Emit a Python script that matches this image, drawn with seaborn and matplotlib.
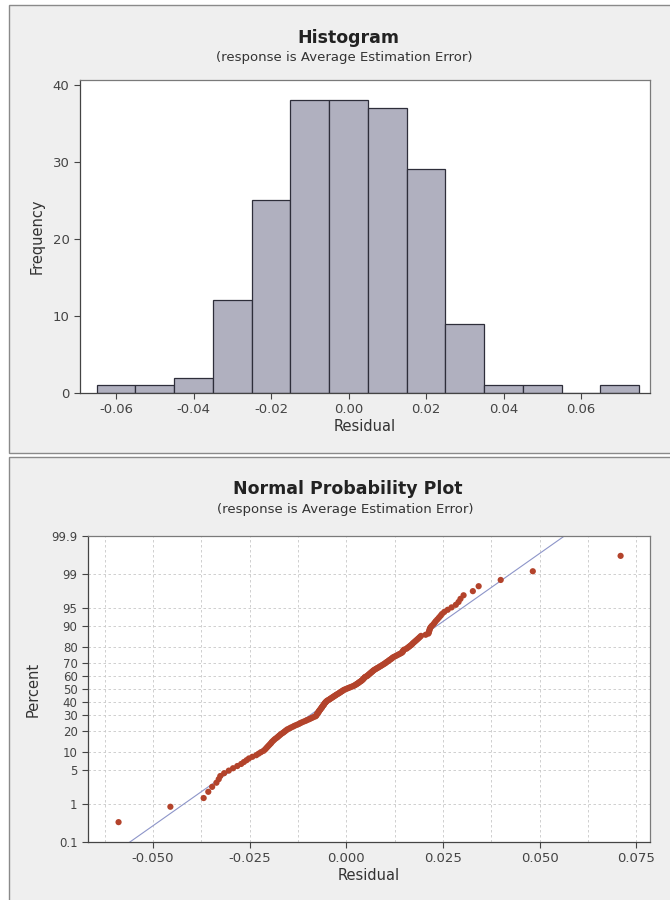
from statistics import NormalDist
import numpy as np
import seaborn as sns
from matplotlib import pyplot as plt
from matplotlib.patches import Rectangle
from matplotlib.ticker import MultipleLocator, FixedLocator

# residuals (sorted), 195 obs
residuals = [
    -0.0589, -0.0455, -0.0369, -0.0357,
    # -0.035 .. -0.025
    -0.0347, -0.0336, -0.0330, -0.0326, -0.0316, -0.0304, -0.0293, -0.0282,
    -0.0272, -0.0265, -0.0258, -0.0252,
    # -0.025 .. -0.015
    -0.0243, -0.0233, -0.0227, -0.0221, -0.0214, -0.0210, -0.0207, -0.0204,
    -0.0201, -0.0198, -0.0195, -0.0193, -0.0190, -0.0187, -0.0184, -0.0180,
    -0.0177, -0.0174, -0.0171, -0.0168, -0.0164, -0.0161, -0.0158, -0.0155,
    -0.0152,
    # -0.015 .. -0.005
    -0.0147, -0.0143, -0.0138, -0.0134, -0.0129, -0.0124, -0.0120, -0.0116,
    -0.0111, -0.0106, -0.0102, -0.0097, -0.0093, -0.0089, -0.0085, -0.0080,
    -0.0078, -0.0077, -0.0076, -0.0075, -0.0073, -0.0072, -0.0071, -0.0070,
    -0.0068, -0.0067, -0.0066, -0.0064, -0.0063, -0.0062, -0.0061, -0.0059,
    -0.0058, -0.0057, -0.0056, -0.0054, -0.0053, -0.0051,
    # -0.005 .. 0.005
    -0.0049, -0.0046, -0.0043, -0.0041, -0.0038, -0.0036, -0.0033, -0.0031,
    -0.0028, -0.0026, -0.0023, -0.0020, -0.0018, -0.0015, -0.0013, -0.0010,
    -0.0008, -0.0005, -0.0001, 0.0003, 0.0007, 0.0011, 0.0015, 0.0019,
    0.0022, 0.0025, 0.0027, 0.0030, 0.0032, 0.0034, 0.0037, 0.0039,
    0.0041, 0.0043, 0.0044, 0.0046, 0.0047, 0.0049,
    # 0.005 .. 0.015
    0.0053, 0.0055, 0.0057, 0.0059, 0.0061, 0.0063, 0.0065, 0.0067,
    0.0069, 0.0071, 0.0074, 0.0077, 0.0080, 0.0083, 0.0086, 0.0089,
    0.0092, 0.0095, 0.0098, 0.0101, 0.0103, 0.0106, 0.0109, 0.0111,
    0.0114, 0.0117, 0.0119, 0.0122, 0.0126, 0.0130, 0.0134, 0.0138,
    0.0142, 0.0145, 0.0146, 0.0147, 0.0149,
    # 0.015 .. 0.025
    0.0155, 0.0158, 0.0161, 0.0164, 0.0167, 0.0170, 0.0172, 0.0175,
    0.0178, 0.0181, 0.0184, 0.0187, 0.0190, 0.0193, 0.0205, 0.0212,
    0.0213, 0.0214, 0.0215, 0.0216, 0.0218, 0.0221, 0.0225, 0.0228,
    0.0231, 0.0235, 0.0239, 0.0243, 0.0247,
    # 0.025 .. 0.035 and the tail
    0.0253, 0.0262, 0.0272, 0.0283, 0.0290, 0.0295, 0.0303, 0.0327, 0.0342,
    0.0399, 0.0482, 0.0709,
]

bin_edges = [-0.065, -0.055, -0.045, -0.035, -0.025, -0.015, -0.005, 0.005,
             0.015, 0.025, 0.035, 0.045, 0.055, 0.065, 0.075]
hist_xticks = [-0.06, -0.04, -0.02, 0.00, 0.02, 0.04, 0.06]
hist_yticks = [0, 10, 20, 30, 40]
prob_xticks = [-0.050, -0.025, 0.000, 0.025, 0.050, 0.075]
pct_ticks = [0.1, 1, 5, 10, 20, 30, 40, 50, 60, 70, 80, 90, 95, 99, 99.9]
pct_labels = ['0.1', '1', '5', '10', '20', '30', '40', '50', '60', '70',
              '80', '90', '95', '99', '99.9']

sns.set_style('white')
plt.rcParams['font.family'] = ['DejaVu Sans']

TXT = '#333333'
fig = plt.figure(figsize=(6.7, 9), dpi=100)
fig.patch.set_facecolor('white')

# panel backgrounds (figure px -> fraction)
W, H = 670, 900
for (x0, y0, x1, y1) in [(9, 5, 680, 453), (9, 457, 680, 910)]:
    fig.patches.append(Rectangle((x0 / W, 1 - y1 / H), (x1 - x0) / W, (y1 - y0) / H,
                                 transform=fig.transFigure, facecolor='#efefef',
                                 edgecolor='#8a8a8a', lw=1.0, zorder=-10))

# ---- histogram
ax1 = fig.add_axes([80 / W, 1 - 393 / H, 570 / W, 313 / H])
sns.histplot(x=residuals, bins=bin_edges, ax=ax1, color='#b0b0bf', alpha=1,
             edgecolor='#2e2e3a', linewidth=0.9)
ax1.set_xlim(-0.0693, 0.0778)
ax1.set_ylim(0, 40.6)
ax1.set_xticks(hist_xticks)
ax1.set_xticklabels([f'{v:.2f}' for v in hist_xticks])
ax1.set_yticks(hist_yticks)
ax1.set_xlabel('Residual', fontsize=10.5, color=TXT, labelpad=2)
ax1.set_ylabel('Frequency', fontsize=10.5, color=TXT, labelpad=6)
fig.text(348 / W, 1 - 38 / H, 'Histogram', ha='center', va='center',
         fontsize=12.5, fontweight='bold', color='#222222')
fig.text(344 / W, 1 - 58 / H, '(response is Average Estimation Error)', ha='center',
         va='center', fontsize=9.5, color=TXT)

# ---- normal probability plot
nd = NormalDist()
to_z = np.vectorize(lambda p: nd.inv_cdf(min(max(p / 100, 1e-9), 1 - 1e-9)), otypes=[float])
to_p = np.vectorize(lambda z: nd.cdf(z) * 100, otypes=[float])

res = np.sort(np.array(residuals))
n = len(res)
pct = (np.arange(1, n + 1) - 0.3) / (n + 0.4) * 100
mu, sd = res.mean(), res.std(ddof=1)
line_p = np.linspace(0.05, 99.95, 300)
line_x = mu + sd * to_z(line_p)

ax2 = fig.add_axes([88 / W, 1 - 842 / H, 562 / W, 306 / H])
ax2.set_yscale('function', functions=(to_z, to_p))
sns.lineplot(x=line_x, y=line_p, ax=ax2, color='#8d95c9', lw=0.8, sort=False,
             estimator=None)
sns.scatterplot(x=res, y=pct, ax=ax2, color='#b3432b', s=20, edgecolor='none', zorder=3)
ax2.set_xlim(-0.0668, 0.0785)
ax2.set_ylim(0.1, 99.9)
ax2.yaxis.set_major_locator(FixedLocator(pct_ticks))
ax2.set_yticklabels(pct_labels)
ax2.yaxis.set_minor_locator(FixedLocator([]))
ax2.set_xticks(prob_xticks)
ax2.set_xticklabels([f'{v:.3f}' for v in prob_xticks])
ax2.xaxis.set_minor_locator(MultipleLocator(0.0125))
ax2.grid(True, which='both', axis='x', color='#c8c8c8', lw=0.6, ls=(0, (3, 3)))
ax2.grid(True, which='major', axis='y', color='#c8c8c8', lw=0.6, ls=(0, (3, 3)))
ax2.set_axisbelow(True)
ax2.set_xlabel('Residual', fontsize=10.5, color=TXT, labelpad=2)
ax2.set_ylabel('Percent', fontsize=10.5, color=TXT, labelpad=8)
fig.text(348 / W, 1 - 489 / H, 'Normal Probability Plot', ha='center', va='center',
         fontsize=12.5, fontweight='bold', color='#222222')
fig.text(345 / W, 1 - 509 / H, '(response is Average Estimation Error)', ha='center',
         va='center', fontsize=9.5, color=TXT)

for ax in (ax1, ax2):
    ax.set_facecolor('white')
    for s in ax.spines.values():
        s.set_color('#7a7a7a')
        s.set_linewidth(0.9)
    ax.spines['left'].set_color('#444444')
    ax.spines['bottom'].set_color('#444444')
    ax.tick_params(which='major', direction='out', length=4, width=0.8, color='#444444',
                   labelsize=9.5, labelcolor='#444444', left=True, bottom=True)
    ax.tick_params(which='minor', length=0)
ax2.tick_params(axis='y', labelsize=8.5)

fig.savefig('out.png', dpi=100)
